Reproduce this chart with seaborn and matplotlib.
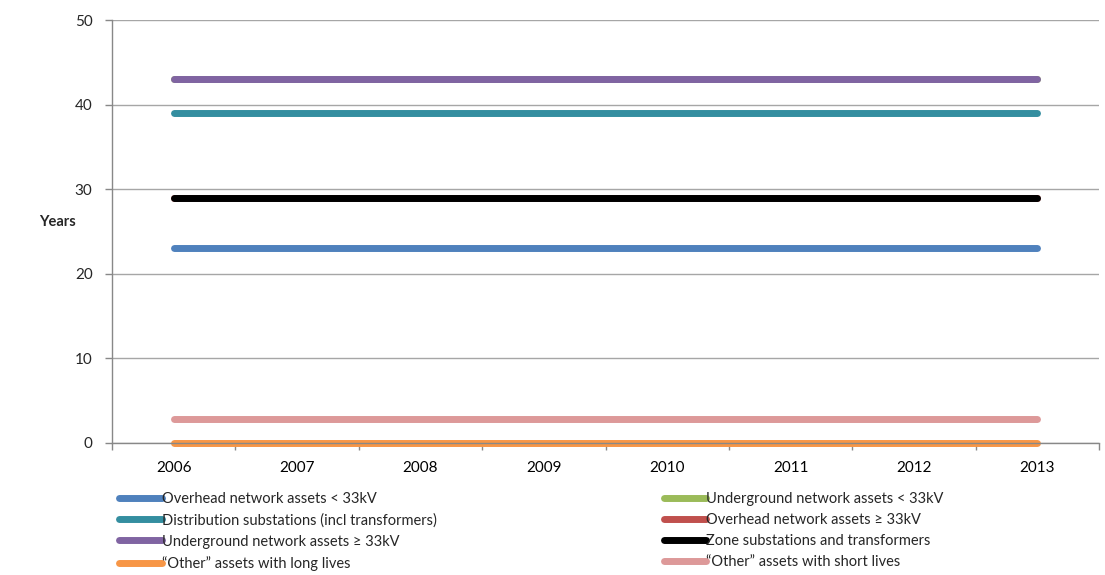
import numpy as np
import pandas as pd
import matplotlib
matplotlib.use('Agg')
import matplotlib.pyplot as plt
from matplotlib.lines import Line2D
import seaborn as sns

sns.set_theme(style='white')
plt.rcParams['font.family'] = ['Lato', 'DejaVu Sans']

# data (green and red series sit under other lines)
years = [2006, 2007, 2008, 2009, 2010, 2011, 2012, 2013]
series_names = ['Overhead network assets < 33kV',
                'Underground network assets < 33kV',
                'Distribution substations (incl transformers)',
                'Overhead network assets ≥ 33kV',
                'Underground network assets ≥ 33kV',
                'Zone substations and transformers',
                '“Other” assets with long lives',
                '“Other” assets with short lives']
overhead_lt33 = [23] * 8
underground_lt33 = [43] * 8
dist_subst = [39] * 8
overhead_ge33 = [29] * 8
underground_ge33 = [43] * 8
zone_subst = [29] * 8
other_long = [0] * 8
other_short = [2.8] * 8
colors = ['#4f81bd', '#9bbb59', '#348ea0', '#c0504d',
          '#8064a2', '#000000', '#f79646', '#dd9999']

values = [overhead_lt33, underground_lt33, dist_subst, overhead_ge33,
          underground_ge33, zone_subst, other_long, other_short]
rows = []
for name, vals in zip(series_names, values):
    for y, v in zip(years, vals):
        rows.append({'year': y, 'years': v, 'series': name})
df = pd.DataFrame(rows)

fig = plt.figure(figsize=(11.05, 5.75), dpi=100)
ax = fig.add_axes([0.1014, 0.2296, 0.8932, 0.7356])

sns.lineplot(data=df, x='year', y='years', hue='series', hue_order=series_names,
             palette=colors, linewidth=5, solid_capstyle='round', ax=ax,
             legend=False, clip_on=False)

ax.set_xlim(2005.5, 2013.5)
ax.set_ylim(0, 50)
ax.set_yticks([0, 10, 20, 30, 40, 50])
ax.set_xticks(years)
ax.set_xticks(np.arange(2005.5, 2014, 1.0), minor=True)
ax.tick_params(axis='x', which='major', length=0, pad=13, labelsize=11, colors='black')
ax.tick_params(axis='x', which='minor', length=5, width=1, color='#888888', direction='out', bottom=True)
ax.tick_params(axis='y', length=5, width=1, color='#888888', direction='out', left=True,
               labelsize=11, pad=9)
ax.yaxis.grid(True, color='#a6a6a6', linewidth=1)
ax.set_axisbelow(True)
for s in ['top', 'right']:
    ax.spines[s].set_visible(False)
for s in ['left', 'bottom']:
    ax.spines[s].set_color('#888888')
    ax.spines[s].set_linewidth(1)
ax.set_xlabel('')
ax.set_ylabel('Years', rotation=0, fontweight='bold', fontsize=10.5, va='center', ha='center')
ax.yaxis.set_label_coords(-0.055, 0.522)

handles = [Line2D([0], [0], color=c, lw=5, solid_capstyle='round') for c in colors]
left_idx = [0, 2, 4, 6]
right_idx = [1, 3, 5, 7]
for idx, xpos in [(left_idx, 0.108), (right_idx, 0.601)]:
    leg = fig.legend([handles[i] for i in idx], [series_names[i] for i in idx],
                     loc='upper left', bbox_to_anchor=(xpos, 0.145), frameon=False,
                     fontsize=10.5, handlelength=2.9, handletextpad=0.0,
                     labelspacing=0.5, borderaxespad=0, borderpad=0)

fig.savefig('out.png', dpi=100)
